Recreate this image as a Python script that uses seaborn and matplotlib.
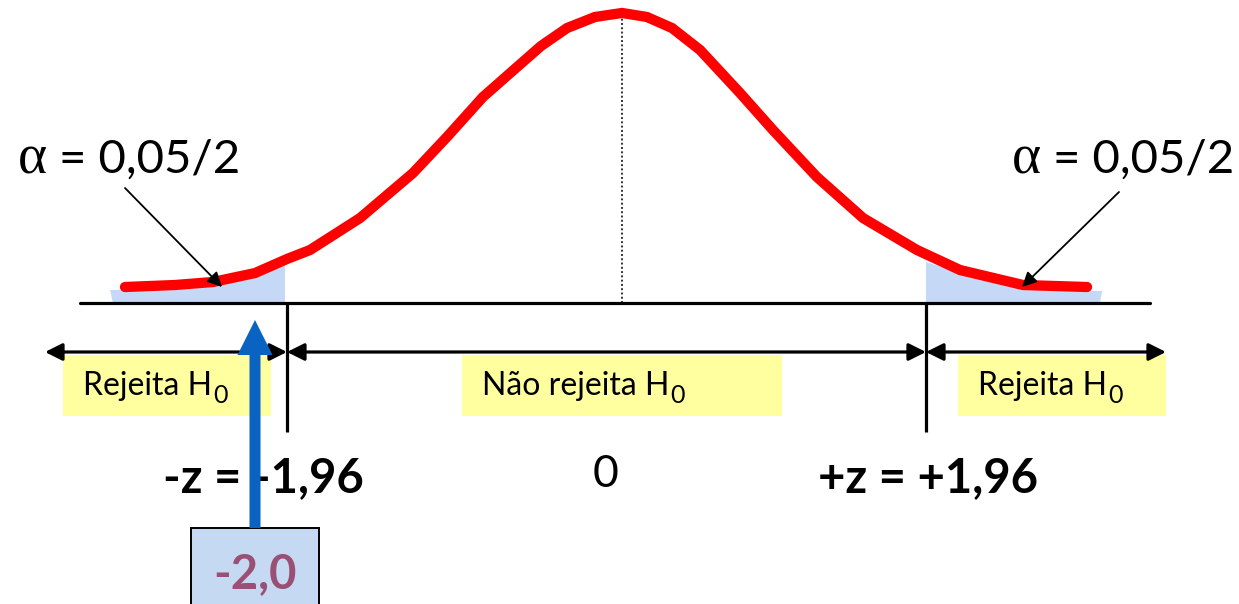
import numpy as np
import pandas as pd
import matplotlib
matplotlib.use("Agg")
import matplotlib.pyplot as plt
from matplotlib.transforms import Affine2D
from matplotlib.patches import Rectangle, FancyArrow
import seaborn as sns

# ---------------- data ----------------
curve_z = [-2.954, -2.647, -2.414, -2.156, -1.960, -1.819, -1.512, -1.187, -0.979,
           -0.758, -0.549, -0.402, -0.242, -0.071, 0.095, 0.248, 0.402, 0.574,
           0.819, 1.021, 1.291, 1.574, 1.905, 2.169, 2.555, 2.948]
curve_d = [0.0223, 0.0251, 0.0293, 0.0418, 0.0614, 0.0739, 0.1185, 0.1813, 0.2315,
           0.2873, 0.3291, 0.3584, 0.3835, 0.3989, 0.4045, 0.3989, 0.3835, 0.3529,
           0.2929, 0.2413, 0.1757, 0.1185, 0.0739, 0.0460, 0.0251, 0.0223]
left_tail_z = [-3.028, -3.046, -2.647, -2.402, -2.156, -1.972, -1.972]
left_tail_d = [0.0, 0.0181, 0.0209, 0.0265, 0.0377, 0.0530, 0.0]
right_tail_z = [1.960, 1.960, 2.212, 2.555, 3.040, 3.028]
right_tail_d = [0.0, 0.0572, 0.0391, 0.0209, 0.0167, 0.0]
critical = [-1.96, 1.96]
mean_z = 0.095
region_labels = ["Rejeita H", "Não rejeita H", "Rejeita H"]
alpha_label = "= 0,05/2"
crit_labels = ["-z = -1,96", "+z = +1,96"]
center_label = "0"
stat_label = "-2,0"

# ---------------- figure ----------------
W, H = 1239, 604
sns.set_theme(style="white")
plt.rcParams["font.family"] = ["Lato", "DejaVu Sans"]
plt.rcParams["text.color"] = "black"
fig = plt.figure(figsize=(W / 100, H / 100), dpi=100)
ax = fig.add_axes([0, 0, 1, 1])
X0, SX = 606.5, 163.0
Y0, SY = 303.0, 717.0
ax.set_xlim((0 - X0) / SX, (W - X0) / SX)
ax.set_ylim((Y0 - H) / SY, Y0 / SY)
ax.axis("off")

# pixel transform (origin top-left) for layout
pix = Affine2D().scale(1, -1).translate(0, H)

# shaded tails
ax.fill(left_tail_z, left_tail_d, color="#C5D9F6", lw=0, zorder=1)
ax.fill(right_tail_z, right_tail_d, color="#C5D9F6", lw=0, zorder=1)

# dotted mean line
ax.plot([mean_z, mean_z], [0, max(curve_d) - 0.004], ls=(0, (1, 1.2)), color="#333333", lw=1.4, zorder=2)

# curve
df = pd.DataFrame({"z": curve_z, "d": curve_d})
sns.lineplot(data=df, x="z", y="d", ax=ax, color="#FF0000", lw=7.4, sort=False,
             solid_capstyle="round", solid_joinstyle="miter", zorder=4)
ax.set_xlabel(""); ax.set_ylabel("")

# baseline
ax.plot([80, 1150], [303, 303], color="black", lw=2.3, transform=pix, zorder=3)
# critical vertical lines
ax.vlines(critical, ymin=-(432 - 303) / SY, ymax=0, color="black", lw=2.3, zorder=3)

# yellow boxes
for (x0, x1) in [(63, 271), (462, 782), (958, 1166)]:
    ax.add_patch(Rectangle((x0, 416), x1 - x0, -61, transform=pix, facecolor="#FFFF9F", lw=0, zorder=2))

# double arrows
for (a, b) in [(45, 287), (287, 926), (926, 1166)]:
    ax.annotate("", xy=(a, H - 352), xytext=(b, H - 352), xycoords="figure pixels",
                textcoords="figure pixels",
                arrowprops=dict(arrowstyle="<|-|>", lw=2.3, color="black",
                                mutation_scale=26, shrinkA=0, shrinkB=0), zorder=5)

# region labels
txts = []
for lab, x in zip(region_labels, [83, 482, 978]):
    t = ax.text(x, 395, lab, transform=pix, fontsize=23, va="baseline", ha="left", color="black", zorder=6)
    txts.append(t)
fig.canvas.draw()
r = fig.canvas.get_renderer()
for t in txts:
    bb = t.get_window_extent(r)
    ax.text(bb.x1 + 1, 403, "0", transform=pix, fontsize=18, va="baseline", ha="left",
            color="black", zorder=6)

# alpha labels
for xa, xr in [(18, 240), (1012, 1234)]:
    ax.text(xa, 173, "α", transform=pix, fontsize=40, family=["Liberation Serif", "DejaVu Serif"],
            va="baseline", ha="left", color="black")
    ax.text(xr, 173, alpha_label, transform=pix, fontsize=34, va="baseline", ha="right", color="black")

# alpha arrows
for (xs, ys, xe, ye) in [(125, 188, 222, 287), (1119, 192, 1022, 287)]:
    ax.annotate("", xy=(xe, H - ye), xytext=(xs, H - ys), xycoords="figure pixels",
                textcoords="figure pixels",
                arrowprops=dict(arrowstyle="-|>", lw=1.3, color="black", mutation_scale=22,
                                shrinkA=0, shrinkB=0), zorder=6)

# critical labels
ax.text(163, 492, crit_labels[0], transform=pix, fontsize=34, fontweight="bold", color="black",
        va="baseline", ha="left", zorder=6)
ax.text(818, 492, crit_labels[1], transform=pix, fontsize=34, fontweight="bold", color="black",
        va="baseline", ha="left", zorder=6)
ax.text(606, 487, center_label, transform=pix, fontsize=32, va="baseline", ha="center",
        color="black", zorder=6)

# statistic box and blue arrow
ax.add_patch(Rectangle((191, 608), 128, -80, transform=pix, facecolor="#C6D9F2",
                       edgecolor="black", lw=1.4, zorder=6))
ax.text(255, 588, stat_label, transform=pix, fontsize=34, fontweight="bold", color="#9A5075",
        va="baseline", ha="center", zorder=7)
ax.add_patch(FancyArrow(255, H - 528, 0, 208, width=11, head_width=35, head_length=35,
                        length_includes_head=True, transform=None, color="#0A62C2", lw=0, zorder=8))

fig.savefig("out.png", dpi=100)
